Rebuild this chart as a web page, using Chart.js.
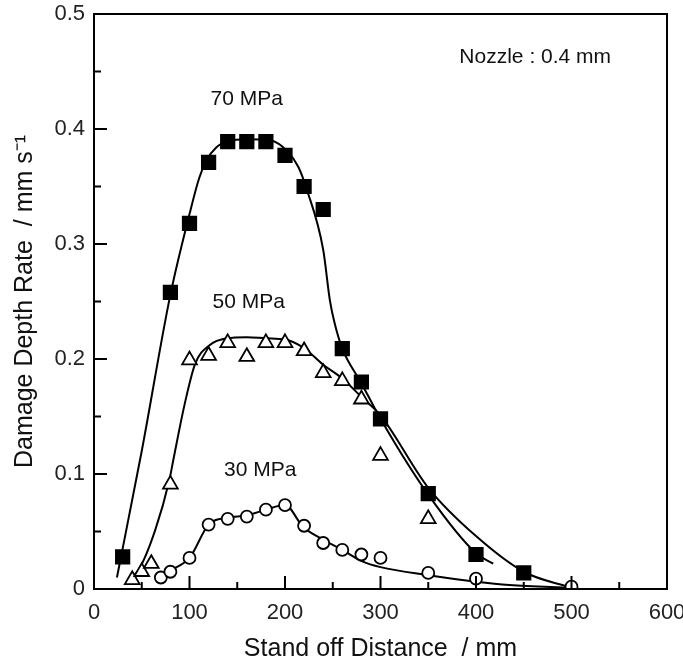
<!doctype html>
<html>
<head>
<title>Damage Depth Rate</title>
	<script src="https://cdn.jsdelivr.net/npm/chart.js@4"></script>
	<style>
		body { margin: 0; background: #fff; }
		#wrap { width: 683px; height: 664px; }
	</style>
</head>

<body>
	<div id="wrap">
		<canvas id="canvas"></canvas>
	</div>
	<script>
		// measured points (stand off distance mm, damage depth rate mm/s)
		var dist70 = [30, 80, 100, 120, 140, 160, 180, 200, 220, 240, 260, 280, 300, 350, 400, 450];
		var rate70 = [0.028, 0.258, 0.318, 0.371, 0.389, 0.389, 0.389, 0.377, 0.350, 0.330, 0.209, 0.180, 0.148, 0.083, 0.030, 0.014];
		var dist50 = [40, 50, 60, 80, 100, 120, 140, 160, 180, 200, 220, 240, 260, 280, 300, 350];
		var rate50 = [0.008, 0.015, 0.022, 0.091, 0.199, 0.203, 0.214, 0.202, 0.214, 0.214, 0.207, 0.188, 0.181, 0.165, 0.116, 0.061];
		var dist30 = [70, 80, 100, 120, 140, 160, 180, 200, 220, 240, 260, 280, 300, 350, 400, 500];
		var rate30 = [0.010, 0.015, 0.027, 0.056, 0.061, 0.063, 0.069, 0.073, 0.055, 0.040, 0.034, 0.030, 0.027, 0.014, 0.009, 0.002];

		// fitted curves
		var fitX70 = [24, 50, 80, 100, 110, 118, 128, 140, 160, 185, 202, 214, 223, 240, 247, 252, 260, 280, 300, 350, 400, 418];
		var fitY70 = [0.010, 0.120, 0.256, 0.326, 0.357, 0.373, 0.384, 0.389, 0.391, 0.390, 0.381, 0.367, 0.347, 0.295, 0.251, 0.231, 0.209, 0.179, 0.148, 0.082, 0.031, 0.022];
		var fitX50 = [36, 47, 64, 79, 83, 95, 106, 121, 139, 160, 181, 200, 219, 240, 260, 280, 300, 350, 400, 450, 500];
		var fitY50 = [0.008, 0.017, 0.051, 0.095, 0.112, 0.161, 0.196, 0.212, 0.218, 0.219, 0.218, 0.217, 0.210, 0.195, 0.183, 0.167, 0.151, 0.088, 0.046, 0.015, 0.001];
		var fitX30 = [70, 80, 100, 120, 140, 160, 180, 200, 219, 240, 260, 281, 300, 350, 400, 435, 500];
		var fitY30 = [0.010, 0.016, 0.027, 0.056, 0.062, 0.064, 0.069, 0.073, 0.054, 0.043, 0.034, 0.024, 0.019, 0.012, 0.0064, 0.0035, 0.001];

		var notes = [
			{ text: '70 MPa', x: 160, y: 0.426 },
			{ text: '50 MPa', x: 162, y: 0.249 },
			{ text: '30 MPa', x: 174, y: 0.103 },
			{ text: 'Nozzle : 0.4 mm', x: 462, y: 0.462 }
		];

		var FONT = '"Liberation Sans", Arial, sans-serif';

		function pts(xs, ys) {
			return xs.map(function(x, i) { return { x: x, y: ys[i] }; });
		}

		function fitSet(xs, ys) {
			return {
				type: 'line',
				data: pts(xs, ys),
				borderColor: '#000',
				borderWidth: 2,
				pointRadius: 0,
				fill: false,
				cubicInterpolationMode: 'monotone',
				order: 2
			};
		}

		function markSet(xs, ys, style, radius, fillColor) {
			return {
				type: 'scatter',
				data: pts(xs, ys),
				showLine: false,
				pointStyle: style,
				pointRadius: radius,
				pointBackgroundColor: fillColor,
				pointBorderColor: '#000',
				pointBorderWidth: 1.8,
				order: 1
			};
		}

		// frame, inward ticks and text notes
		var decorPlugin = {
			id: 'decor',
			afterDraw: function(chart) {
				var ctx = chart.ctx;
				var a = chart.chartArea;
				var xs = chart.scales.x, ys = chart.scales.y;
				ctx.save();
				ctx.strokeStyle = '#000';
				ctx.lineWidth = 2;
				ctx.strokeRect(a.left, a.top, a.right - a.left, a.bottom - a.top);

				ctx.beginPath();
				var stepX = xs.options.ticks.stepSize / 2;
				for (var i = 0; xs.min + i * stepX <= xs.max + 1e-9; i++) {
					var px = xs.getPixelForValue(xs.min + i * stepX);
					var len = i % 2 === 0 ? 13 : 7;
					ctx.moveTo(px, a.bottom);
					ctx.lineTo(px, a.bottom - len);
				}
				var stepY = ys.options.ticks.stepSize / 2;
				for (var j = 0; ys.min + j * stepY <= ys.max + 1e-9; j++) {
					var py = ys.getPixelForValue(ys.min + j * stepY);
					var lenY = j % 2 === 0 ? 13 : 7;
					ctx.moveTo(a.left, py);
					ctx.lineTo(a.left + lenY, py);
				}
				ctx.stroke();

				ctx.fillStyle = '#111';
				ctx.font = '21px ' + FONT;
				ctx.textAlign = 'center';
				ctx.textBaseline = 'middle';
				notes.forEach(function(n) {
					ctx.fillText(n.text, xs.getPixelForValue(n.x), ys.getPixelForValue(n.y));
				});
				ctx.restore();
			}
		};

		var config = {
			type: 'scatter',
			data: {
				datasets: [
					fitSet(fitX70, fitY70),
					fitSet(fitX50, fitY50),
					fitSet(fitX30, fitY30),
					markSet(dist70, rate70, 'rect', 9.5, '#000'),
					markSet(dist50, rate50, 'triangle', 8.5, '#fff'),
					markSet(dist30, rate30, 'circle', 6, '#fff')
				]
			},
			options: {
				responsive: true,
				maintainAspectRatio: false,
				animation: false,
				layout: {
					padding: { top: 14, right: 16, left: 0, bottom: 0 }
				},
				plugins: {
					legend: { display: false },
					tooltip: { enabled: false }
				},
				scales: {
					x: {
						type: 'linear',
						min: 0,
						max: 600,
						grid: { display: false, drawTicks: false },
						border: { display: false },
						ticks: {
							stepSize: 100,
							padding: 11,
							color: '#222',
							font: { family: FONT, size: 22 },
							maxRotation: 0
						},
						title: {
							display: true,
							text: 'Stand off Distance  / mm',
							color: '#111',
							font: { family: FONT, size: 25 },
							padding: { top: 14, bottom: 0 }
						},
						afterFit: function(scale) {
							scale.height = 75;
							scale.paddingLeft = 0;
							scale.paddingRight = 0;
						}
					},
					y: {
						type: 'linear',
						min: 0,
						max: 0.5,
						grid: { display: false, drawTicks: false },
						border: { display: false },
						ticks: {
							stepSize: 0.1,
							padding: 9,
							color: '#222',
							font: { family: FONT, size: 22 }
						},
						title: {
							display: true,
							text: 'Damage Depth Rate  / mm s\u207B\u00B9',
							color: '#111',
							font: { family: FONT, size: 25 },
							padding: { top: 10, bottom: 0 }
						},
						afterFit: function(scale) {
							scale.width = 94;
							scale.paddingTop = 0;
							scale.paddingBottom = 0;
						}
					}
				}
			},
			plugins: [decorPlugin]
		};

		window.onload = function() {
			var ctx = document.getElementById('canvas').getContext('2d');
			window.myChart = new Chart(ctx, config);
		};
	</script>
</body>

</html>
